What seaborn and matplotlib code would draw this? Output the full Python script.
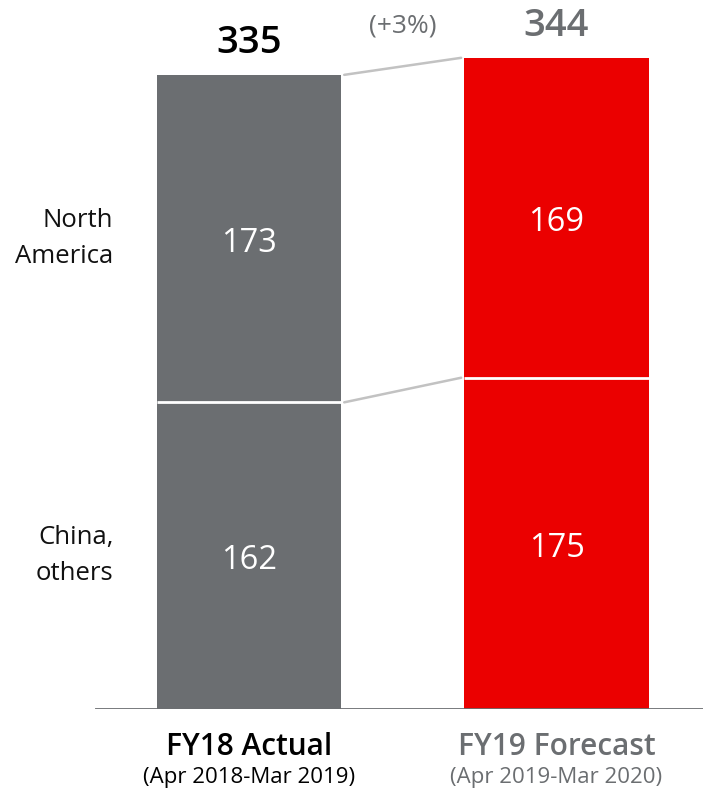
import matplotlib
matplotlib.use("Agg")
import matplotlib.pyplot as plt
import seaborn as sns
import pandas as pd

# ---- data ----
periods = ["FY18 Actual", "FY19 Forecast"]
subtitles = ["(Apr 2018-Mar 2019)", "(Apr 2019-Mar 2020)"]
china_others = [162, 175]
north_america = [173, 169]
growth_label = "(+3%)"
region_labels = ["North\nAmerica", "China,\nothers"]

totals = [a + b for a, b in zip(china_others, north_america)]

GRAY = "#6b6e71"
RED = "#eb0000"
palette = {periods[0]: GRAY, periods[1]: RED}
title_colors = ["#000000", GRAY]

sns.set_theme(style="white")
plt.rcParams["font.family"] = ["Open Sans", "DejaVu Sans"]

df_tot = pd.DataFrame({"period": periods, "value": totals})
df_bot = pd.DataFrame({"period": periods, "value": china_others})

fig = plt.figure(figsize=(7.03, 7.91), dpi=100)
ax = fig.add_axes([95 / 703, 82 / 791, 1 - 95 / 703, 709 / 791])

sns.barplot(data=df_tot, x="period", y="value", hue="period", palette=palette,
            width=0.6, legend=False, ax=ax, linewidth=0, saturation=1)
sns.barplot(data=df_bot, x="period", y="value", hue="period", palette=palette,
            width=0.6, legend=False, ax=ax, linewidth=0, saturation=1)

ax.set_xlim(-0.5, 1.476)
ax.set_ylim(0, 709 / 1.893)
ax.axhline(0, color=GRAY, lw=2, zorder=5)
for s in ax.spines.values():
    s.set_visible(False)
ax.set_xticks([])
ax.set_yticks([])
ax.set_xlabel("")
ax.set_ylabel("")

hw = 0.3
# white separators between segments
for i in range(2):
    ax.plot([i - hw, i + hw], [china_others[i], china_others[i]], color="white", lw=2,
            zorder=4, solid_capstyle="butt")

# connector lines
ax.plot([hw + 0.01, 1 - hw - 0.01], [totals[0], totals[1]], color="#c2c2c2", lw=1.8, zorder=3)
ax.plot([hw + 0.01, 1 - hw - 0.01], [china_others[0], china_others[1]], color="#c2c2c2", lw=1.8, zorder=3)

# segment labels
dy = -2.5
for i in range(2):
    ax.text(i, china_others[i] / 2 + dy, str(china_others[i]), ha="center", va="center",
            color="white", fontsize=23.5)
    ax.text(i, china_others[i] + north_america[i] / 2 + dy, str(north_america[i]), ha="center",
            va="center", color="white", fontsize=23.5)
    ax.text(i, totals[i] + 17, str(totals[i]), ha="center", va="center",
            color=title_colors[i], fontsize=27.5, fontweight="semibold")
    ax.text(i, -0.054, periods[i], ha="center", va="center", color=title_colors[i],
            fontsize=21.5, fontweight="semibold", transform=ax.get_xaxis_transform())
    ax.text(i, -0.097, subtitles[i], ha="center", va="center", color=title_colors[i],
            fontsize=16, transform=ax.get_xaxis_transform())

ax.text(0.5, totals[1] + 17, growth_label, ha="center", va="center", color=GRAY, fontsize=19)

# region labels
ax.text(-0.44, china_others[0] + north_america[0] / 2, region_labels[0], ha="right",
        va="center", color="#111111", fontsize=18.5, linespacing=1.6)
ax.text(-0.44, china_others[0] / 2, region_labels[1], ha="right",
        va="center", color="#111111", fontsize=18.5, linespacing=1.6)

fig.savefig("out.png", dpi=100)
